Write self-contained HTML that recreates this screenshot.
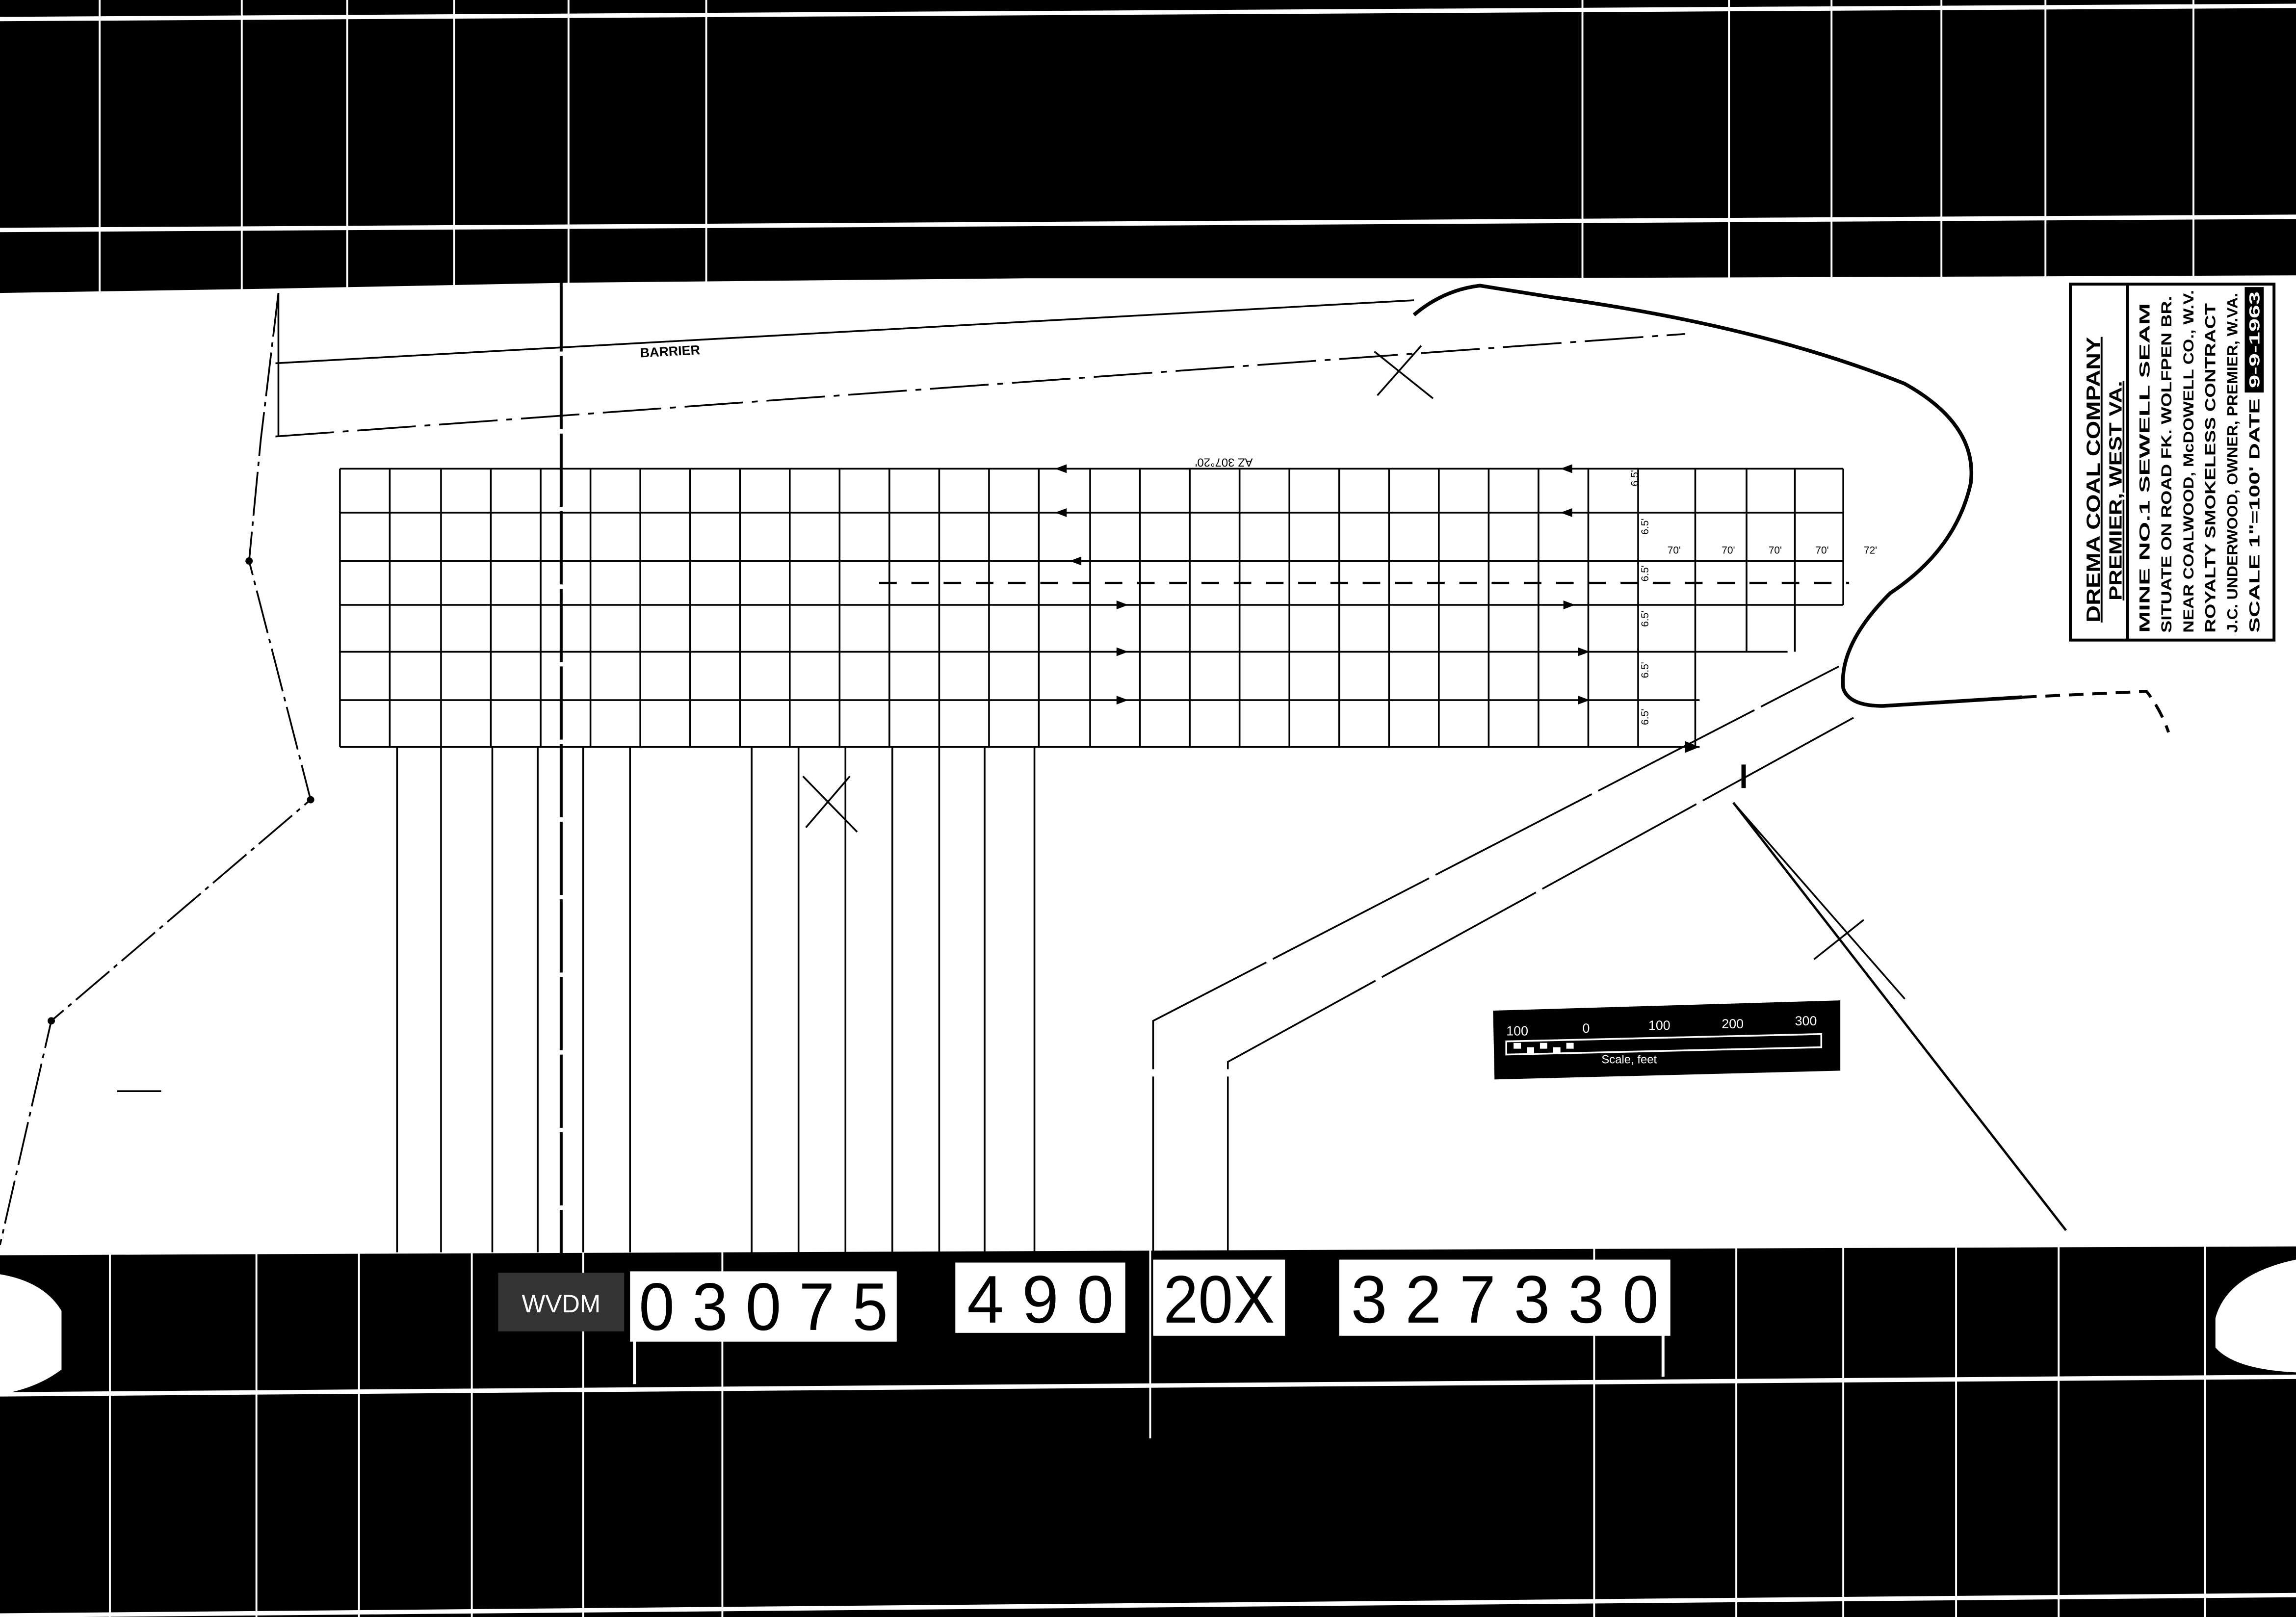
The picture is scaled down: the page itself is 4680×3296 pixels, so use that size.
<!DOCTYPE html>
<html><head><meta charset="utf-8"><style>
html,body{margin:0;padding:0;background:#000;}
svg{display:block;}
text{font-family:"Liberation Sans",sans-serif;}
</style></head><body>
<svg width="4680" height="3296" viewBox="0 0 1567 1104" preserveAspectRatio="none" xmlns="http://www.w3.org/2000/svg">
<rect x="0" y="0" width="1567" height="1104" fill="#000"/>
<g stroke="#fff" stroke-width="1.3">
<line x1="68" y1="0" x2="68" y2="200"/><line x1="165" y1="0" x2="165" y2="200"/>
<line x1="237" y1="0" x2="237" y2="200"/><line x1="310" y1="0" x2="310" y2="200"/>
<line x1="388" y1="0" x2="388" y2="200"/><line x1="482" y1="0" x2="482" y2="200"/>
<line x1="1080" y1="0" x2="1080" y2="200"/><line x1="1180" y1="0" x2="1180" y2="200"/>
<line x1="1250" y1="0" x2="1250" y2="200"/><line x1="1325" y1="0" x2="1325" y2="200"/>
<line x1="1396" y1="0" x2="1396" y2="200"/><line x1="1497" y1="0" x2="1497" y2="200"/>
</g>
<g stroke="#fff" stroke-width="3">
<line x1="0" y1="13" x2="1567" y2="4"/>
<line x1="0" y1="157" x2="1567" y2="148"/>
</g>
<g stroke="#fff" stroke-width="1.3">
<line x1="75" y1="850" x2="75" y2="1104"/><line x1="175" y1="850" x2="175" y2="1104"/>
<line x1="245" y1="850" x2="245" y2="1104"/><line x1="322" y1="850" x2="322" y2="1104"/>
<line x1="398" y1="850" x2="398" y2="1104"/><line x1="493" y1="850" x2="493" y2="1104"/>
<line x1="785" y1="850" x2="785" y2="982"/>
<line x1="1088" y1="850" x2="1088" y2="1104"/><line x1="1185" y1="850" x2="1185" y2="1104"/>
<line x1="1258" y1="850" x2="1258" y2="1104"/><line x1="1335" y1="850" x2="1335" y2="1104"/>
<line x1="1405" y1="850" x2="1405" y2="1104"/><line x1="1505" y1="850" x2="1505" y2="1104"/>
</g>
<g stroke="#fff" stroke-width="3">
<line x1="0" y1="952" x2="1567" y2="940"/>
<line x1="0" y1="1103" x2="1567" y2="1089"/>
</g>
<polygon points="0,200 190,197 390,193 700,190 1000,190 1300,189 1567,188 1567,851 1000,853 500,855 0,857" fill="#fff"/>
<path d="M0,870 Q30,875 42,895 L42,935 Q25,948 0,952 Z" fill="#fff"/>
<path d="M1567,860 Q1520,870 1512,900 L1512,920 Q1525,935 1567,937 Z" fill="#fff"/>
<rect x="340" y="869" width="86" height="40" fill="#333"/>
<text x="383" y="896" font-size="17" fill="#fff" text-anchor="middle">WVDM</text>
<rect x="430" y="868" width="182" height="48" fill="#fff"/>
<rect x="652" y="862" width="116" height="48" fill="#fff"/>
<rect x="787" y="860" width="90" height="52" fill="#fff"/>
<rect x="914" y="860" width="226" height="52" fill="#fff"/>
<g fill="#000" text-anchor="middle" font-size="40">
<text transform="translate(521,908) scale(1,1.15)" textLength="170" lengthAdjust="spacingAndGlyphs">0 3 0 7 5</text>
<text transform="translate(710,903) scale(1,1.15)" textLength="100" lengthAdjust="spacingAndGlyphs">4 9 0</text>
<text transform="translate(832,903) scale(1,1.15)" textLength="76" lengthAdjust="spacingAndGlyphs">20X</text>
<text transform="translate(1027,903) scale(1,1.15)" textLength="210" lengthAdjust="spacingAndGlyphs">3 2 7 3 3 0</text>
</g>
<g stroke="#fff" stroke-width="2"><line x1="433" y1="915" x2="433" y2="945"/><line x1="1135" y1="910" x2="1135" y2="940"/></g>

<g stroke="#000" fill="none" stroke-width="1.2">
<line x1="188" y1="248" x2="965" y2="205"/>
<line x1="188" y1="298" x2="1150" y2="228" stroke-dasharray="40,6,4,6"/>
<line x1="190" y1="200" x2="190" y2="298"/>
<polyline points="190,200 178,300 170,383 212,546 35,697 0,850" stroke-dasharray="30,4,3,4"/>
<line x1="383" y1="190" x2="383" y2="856" stroke-width="2" stroke-dasharray="50,3"/>
<line x1="232" y1="320" x2="1258" y2="320"/>
<line x1="232" y1="350" x2="1258" y2="350"/>
<line x1="232" y1="383" x2="1258" y2="383"/>
<line x1="232" y1="413" x2="1258" y2="413"/>
<line x1="232" y1="445" x2="1220" y2="445"/>
<line x1="232" y1="478" x2="1160" y2="478"/>
<line x1="232" y1="510" x2="1160" y2="510"/>
<line x1="232" y1="320" x2="232" y2="510"/>
<line x1="266" y1="320" x2="266" y2="510"/><line x1="301" y1="320" x2="301" y2="510"/>
<line x1="335" y1="320" x2="335" y2="510"/><line x1="369" y1="320" x2="369" y2="510"/>
<line x1="403" y1="320" x2="403" y2="510"/><line x1="437" y1="320" x2="437" y2="510"/>
<line x1="471" y1="320" x2="471" y2="510"/><line x1="505" y1="320" x2="505" y2="510"/>
<line x1="539" y1="320" x2="539" y2="510"/><line x1="573" y1="320" x2="573" y2="510"/>
<line x1="607" y1="320" x2="607" y2="510"/><line x1="641" y1="320" x2="641" y2="510"/>
<line x1="675" y1="320" x2="675" y2="510"/><line x1="709" y1="320" x2="709" y2="510"/>
<line x1="744" y1="320" x2="744" y2="510"/><line x1="778" y1="320" x2="778" y2="510"/>
<line x1="812" y1="320" x2="812" y2="510"/><line x1="846" y1="320" x2="846" y2="510"/>
<line x1="880" y1="320" x2="880" y2="510"/><line x1="914" y1="320" x2="914" y2="510"/>
<line x1="948" y1="320" x2="948" y2="510"/><line x1="982" y1="320" x2="982" y2="510"/>
<line x1="1016" y1="320" x2="1016" y2="510"/><line x1="1050" y1="320" x2="1050" y2="510"/>
<line x1="1084" y1="320" x2="1084" y2="510"/><line x1="1118" y1="320" x2="1118" y2="510"/>
<line x1="1157" y1="320" x2="1157" y2="510"/>
<line x1="1192" y1="320" x2="1192" y2="445"/><line x1="1225" y1="320" x2="1225" y2="445"/>
<line x1="1258" y1="320" x2="1258" y2="413"/>
<line x1="600" y1="398" x2="1262" y2="398" stroke-width="1.6" stroke-dasharray="12,10"/>
<line x1="271" y1="510" x2="271" y2="855"/><line x1="301" y1="510" x2="301" y2="855"/>
<line x1="336" y1="510" x2="336" y2="855"/><line x1="367" y1="510" x2="367" y2="855"/>
<line x1="398" y1="510" x2="398" y2="855"/><line x1="430" y1="510" x2="430" y2="855"/>
<line x1="513" y1="510" x2="513" y2="855"/><line x1="545" y1="510" x2="545" y2="855"/>
<line x1="577" y1="510" x2="577" y2="855"/><line x1="609" y1="510" x2="609" y2="855"/>
<line x1="641" y1="510" x2="641" y2="855"/><line x1="672" y1="510" x2="672" y2="855"/>
<line x1="706" y1="510" x2="706" y2="855"/>
<path d="M965,215 Q985,198 1010,195 L1060,203 Q1200,222 1300,262 Q1350,290 1345,330 Q1335,375 1290,405 Q1255,440 1258,470 Q1262,482 1285,482 L1380,476" stroke-width="2.5"/>
<path d="M1380,476 L1465,472 Q1475,485 1480,500" stroke-width="2" stroke-dasharray="10,6"/>
<polyline points="787,855 787,697 1255,455" stroke-dasharray="120,5"/>
<polyline points="838,855 838,725 1265,490" stroke-dasharray="120,5"/>
<line x1="1183" y1="548" x2="1410" y2="840" stroke-width="1.6"/>
<line x1="1183" y1="548" x2="1300" y2="682" stroke-width="1.2"/>
<line x1="938" y1="240" x2="978" y2="272"/><line x1="940" y1="270" x2="970" y2="236"/>
<line x1="548" y1="530" x2="585" y2="568"/><line x1="550" y1="565" x2="580" y2="530"/>
<line x1="1238" y1="655" x2="1272" y2="628"/>
<line x1="80" y1="745" x2="110" y2="745"/>
<line x1="1190" y1="522" x2="1190" y2="538" stroke-width="3"/>
</g>
<g fill="#000">
<polygon points="720,320 728,317 728,323"/><polygon points="720,350 728,347 728,353"/>
<polygon points="730,383 738,380 738,386"/>
<polygon points="770,413 762,410 762,416"/><polygon points="770,445 762,442 762,448"/>
<polygon points="770,478 762,475 762,481"/>
<polygon points="1065,320 1073,317 1073,323"/><polygon points="1065,350 1073,347 1073,353"/>
<polygon points="1075,413 1067,410 1067,416"/><polygon points="1085,445 1077,442 1077,448"/>
<polygon points="1085,478 1077,475 1077,481"/>
<polygon points="1160,510 1150,506 1150,514"/>
<circle cx="170" cy="383" r="2.5"/><circle cx="212" cy="546" r="2.5"/><circle cx="35" cy="697" r="2.5"/>
</g>
<text x="437" y="244" font-size="9" font-weight="bold" transform="rotate(-3 437 244)">BARRIER</text>
<text x="855" y="313" font-size="8" transform="rotate(180 855 313)">AZ 307°20'</text>
<g font-size="7">
<text x="1138" y="378">70'</text><text x="1175" y="378">70'</text><text x="1207" y="378">70'</text><text x="1239" y="378">70'</text><text x="1272" y="378">72'</text>
<text x="1118" y="332" transform="rotate(-90 1118 332)">6.5'</text>
<text x="1125" y="365" transform="rotate(-90 1125 365)">6.5'</text>
<text x="1125" y="397" transform="rotate(-90 1125 397)">6.5'</text>
<text x="1125" y="428" transform="rotate(-90 1125 428)">6.5'</text>
<text x="1125" y="463" transform="rotate(-90 1125 463)">6.5'</text>
<text x="1125" y="495" transform="rotate(-90 1125 495)">6.5'</text>
</g>
<polygon points="1019,690 1256,683 1256,731 1020,737" fill="#000"/>
<g fill="#fff" font-size="9">
<text x="1028" y="707">100</text><text x="1080" y="705">0</text><text x="1125" y="703">100</text><text x="1175" y="702">200</text><text x="1225" y="700">300</text>
<text x="1093" y="726" font-size="8">Scale, feet</text>
</g>
<polygon points="1028,711 1243,706 1243,715 1028,720" fill="none" stroke="#fff" stroke-width="1.2"/>
<g fill="#fff"><rect x="1033" y="712" width="5" height="4"/><rect x="1042" y="715" width="5" height="4"/><rect x="1051" y="712" width="5" height="4"/><rect x="1060" y="715" width="5" height="4"/><rect x="1069" y="712" width="5" height="4"/></g>
<rect x="1413" y="194" width="139" height="243" fill="none" stroke="#000" stroke-width="2"/>
<line x1="1452" y1="194" x2="1452" y2="437" stroke="#000" stroke-width="2"/>
<g font-weight="bold" fill="#000">
<text transform="translate(1433,425) rotate(-90)" font-size="13" text-decoration="underline" textLength="195" lengthAdjust="spacingAndGlyphs">DREMA COAL COMPANY</text>
<text transform="translate(1448,410) rotate(-90)" font-size="12" text-decoration="underline" textLength="150" lengthAdjust="spacingAndGlyphs">PREMIER, WEST VA.</text>
<text transform="translate(1467,432) rotate(-90)" font-size="10" textLength="225" lengthAdjust="spacingAndGlyphs">MINE NO.1         SEWELL SEAM</text>
<text transform="translate(1482,432) rotate(-90)" font-size="10" textLength="230" lengthAdjust="spacingAndGlyphs">SITUATE ON ROAD FK. WOLFPEN BR.</text>
<text transform="translate(1497,432) rotate(-90)" font-size="10" textLength="234" lengthAdjust="spacingAndGlyphs">NEAR COALWOOD, McDOWELL CO., W.V.</text>
<text transform="translate(1512,432) rotate(-90)" font-size="10" textLength="225" lengthAdjust="spacingAndGlyphs">ROYALTY SMOKELESS CONTRACT</text>
<text transform="translate(1527,432) rotate(-90)" font-size="10" textLength="232" lengthAdjust="spacingAndGlyphs">J.C. UNDERWOOD, OWNER, PREMIER, W.VA.</text>
<text transform="translate(1542,432) rotate(-90)" font-size="10" textLength="160" lengthAdjust="spacingAndGlyphs">SCALE 1"=100' DATE</text>
</g>
<rect x="1532" y="196" width="13" height="72" fill="#000"/>
<text transform="translate(1542,265) rotate(-90)" font-size="10" fill="#fff" font-weight="bold" textLength="66" lengthAdjust="spacingAndGlyphs">9-9-1963</text>
</svg>
</body></html>
